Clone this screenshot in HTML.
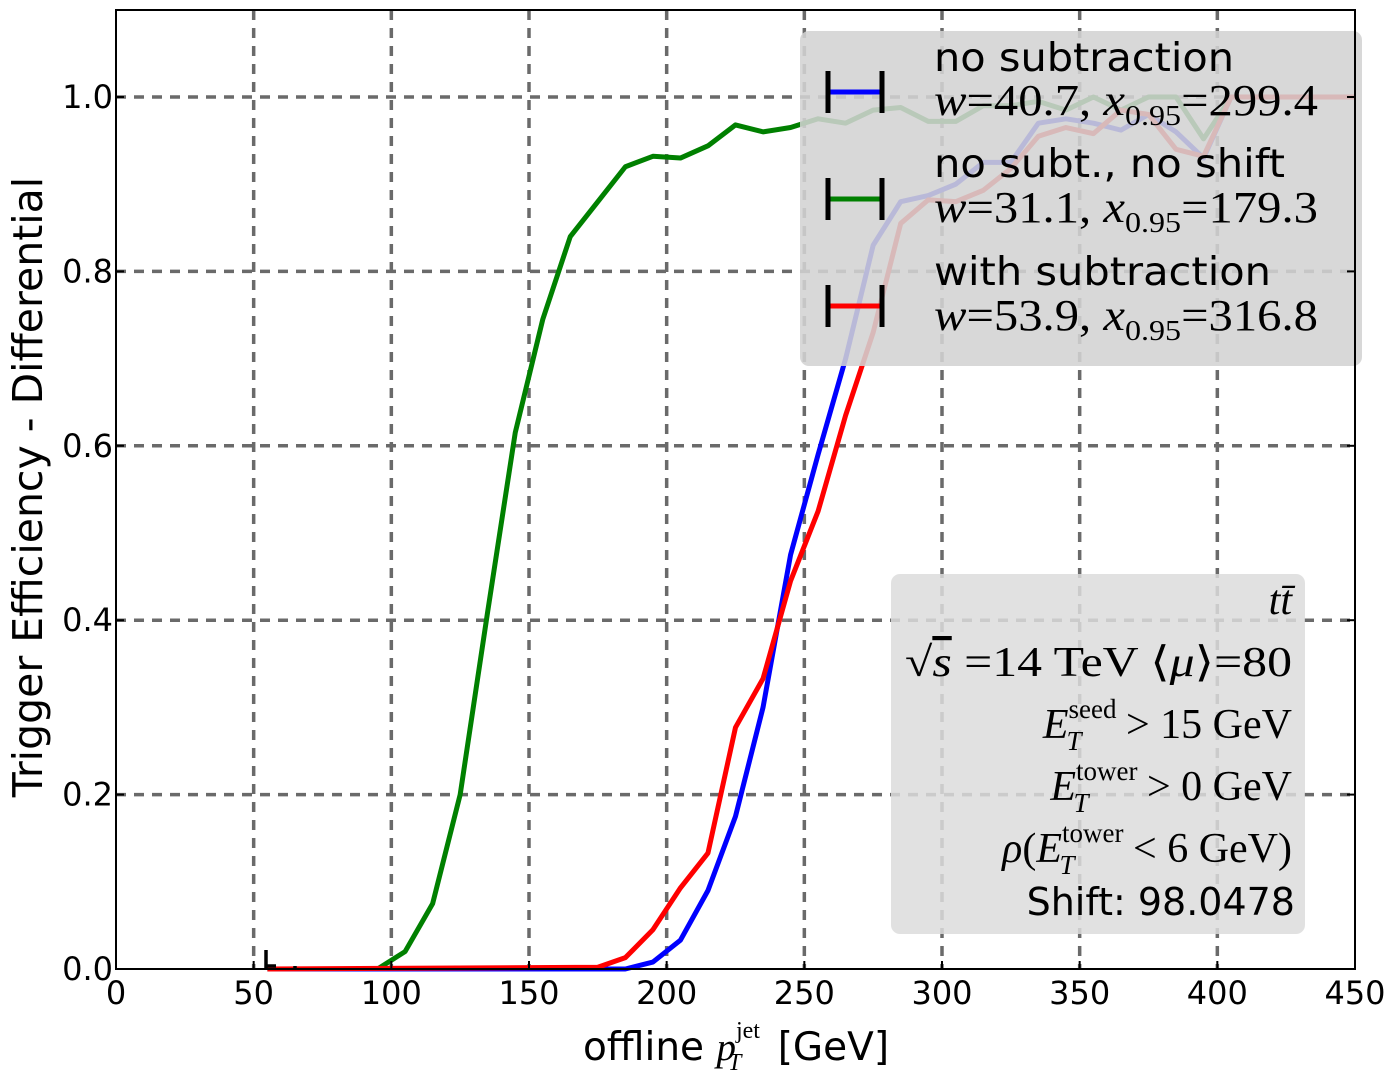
<!DOCTYPE html>
<html><head><meta charset="utf-8">
<style>
body{margin:0;background:#fff;}
svg{display:block;}
text{font-family:"DejaVu Sans","Liberation Sans",sans-serif;}
text.m,.m text,.m tspan,tspan.m{font-family:"Liberation Serif","DejaVu Serif",serif;}
</style></head>
<body>
<svg id="s" width="1397" height="1086" xmlns="http://www.w3.org/2000/svg">
<rect x="0" y="0" width="1397" height="1086" fill="#fff"/>
<g id="grid" stroke="#6a6a6a" stroke-width="3.5" stroke-dasharray="10,8"></g>
<g id="lines" fill="none" stroke-width="5" stroke-linejoin="round"></g>
<path d="M266 950 V969 M266 966 H276 M295 966 V969" stroke="#000" stroke-width="3.5"/>
<rect x="800" y="31" width="562" height="335" rx="9" fill="#d3d3d3" fill-opacity="0.88"/>
<g stroke-width="5">
<path d="M826 92 H884" stroke="#00f"/><path d="M826 199 H884" stroke="#008000"/><path d="M826 306 H884" stroke="#f00"/>
</g>
<g stroke="#000" stroke-width="5">
<path d="M828 71 V113 M882 71 V113 M828 178 V220 M882 178 V220 M828 285 V327 M882 285 V327"/>
</g>
<g font-size="39">
<text x="934" y="71" textLength="300" lengthAdjust="spacingAndGlyphs">no subtraction</text>
<text x="934" y="177" textLength="351" lengthAdjust="spacingAndGlyphs">no subt., no shift</text>
<text x="934" y="285" textLength="337" lengthAdjust="spacingAndGlyphs">with subtraction</text>
</g>
<g class="m" font-size="44">
<text x="934" y="115" textLength="384" lengthAdjust="spacingAndGlyphs"><tspan font-style="italic">w</tspan>=40.7, <tspan font-style="italic">x</tspan><tspan font-size="29" dy="10">0.95</tspan><tspan dy="-10">=299.4</tspan></text>
<text x="934" y="222" textLength="384" lengthAdjust="spacingAndGlyphs"><tspan font-style="italic">w</tspan>=31.1, <tspan font-style="italic">x</tspan><tspan font-size="29" dy="10">0.95</tspan><tspan dy="-10">=179.3</tspan></text>
<text x="934" y="330" textLength="384" lengthAdjust="spacingAndGlyphs"><tspan font-style="italic">w</tspan>=53.9, <tspan font-style="italic">x</tspan><tspan font-size="29" dy="10">0.95</tspan><tspan dy="-10">=316.8</tspan></text>
</g>
<rect x="891" y="574" width="414" height="360" rx="9" fill="#dcdcdc" fill-opacity="0.85"/>
<g class="m" font-size="42" text-anchor="end">
<text x="1292" y="614" font-style="italic">tt̄</text>
<text x="1292" y="676" textLength="387" lengthAdjust="spacingAndGlyphs">√<tspan font-style="italic" text-decoration="overline">s</tspan> =14 TeV ⟨<tspan font-style="italic">μ</tspan>⟩=80</text>
<text x="1292" y="738"><tspan font-style="italic">E</tspan><tspan font-size="27" dy="-20">seed</tspan><tspan font-size="27" font-style="italic" dx="-50" dy="32">T</tspan><tspan dx="34" dy="-12"> &gt; 15 GeV</tspan></text>
<text x="1292" y="800"><tspan font-style="italic">E</tspan><tspan font-size="27" dy="-20">tower</tspan><tspan font-size="27" font-style="italic" dx="-64" dy="32">T</tspan><tspan dx="48" dy="-12"> &gt; 0 GeV</tspan></text>
<text x="1292" y="862"><tspan font-style="italic">ρ</tspan>(<tspan font-style="italic">E</tspan><tspan font-size="27" dy="-20">tower</tspan><tspan font-size="27" font-style="italic" dx="-64" dy="32">T</tspan><tspan dx="48" dy="-12"> &lt; 6 GeV)</tspan></text>
</g>
<text x="1295" y="915" font-size="38" text-anchor="end">Shift: 98.0478</text>
<rect x="116" y="10" width="1239" height="959" fill="none" stroke="#000" stroke-width="2"/>
<g id="ticks" stroke="#000" stroke-width="2"></g>
<g id="tl" font-size="32"></g>
<text x="736" y="1060" font-size="39" text-anchor="middle">offline <tspan class="m" font-style="italic">p</tspan><tspan class="m" font-size="24" dy="-22">jet</tspan><tspan class="m" font-size="24" font-style="italic" dx="-32" dy="32">T</tspan><tspan dx="24" dy="-10"> [GeV]</tspan></text>
<text transform="translate(42,487) rotate(-90)" font-size="41" text-anchor="middle">Trigger Efficiency - Differential</text>
</svg>
<script>
var X=function(v){return 116+v*1239/450},Y=function(v){return 969-v*872};
var ns="http://www.w3.org/2000/svg";
function el(p,t,a){var e=document.createElementNS(ns,t);for(var k in a)e.setAttribute(k,a[k]);p.appendChild(e);return e;}
var g=document.getElementById('grid'),tk=document.getElementById('ticks'),tl=document.getElementById('tl');
for(var i=1;i<9;i++){var x=X(i*50);el(g,'line',{x1:x,x2:x,y1:10,y2:969});}
for(var i=1;i<6;i++){var y=Y(i*0.2);el(g,'line',{x1:116,x2:1355,y1:y,y2:y});}
for(var i=0;i<=9;i++){var x=X(i*50);el(tk,'line',{x1:x,x2:x,y1:969,y2:961});el(tl,'text',{x:x,y:1004,'text-anchor':'middle'}).textContent=i*50;}
for(var i=0;i<=5;i++){var y=Y(i*0.2);el(tk,'line',{x1:116,x2:124,y1:y,y2:y});el(tk,'line',{x1:1355,x2:1347,y1:y,y2:y});el(tl,'text',{x:113,y:y+11,'text-anchor':'end'}).textContent=(i*0.2).toFixed(1);}
var G=[[55,0],[95,0],[105,.02],[115,.075],[125,.2],[135,.41],[145,.615],[155,.745],[165,.84],[175,.88],[185,.92],[195,.932],[205,.93],[215,.944],[225,.968],[235,.96],[245,.965],[255,.975],[265,.97],[275,.985],[285,.988],[295,.972],[305,.972],[315,.99],[325,.99],[335,.995],[345,.985],[355,1],[365,.985],[375,1],[385,1],[395,.952],[405,1],[450,1]];
var B=[[55,0],[185,0],[195,.008],[205,.033],[215,.09],[225,.175],[235,.3],[245,.475],[255,.59],[265,.7],[275,.83],[285,.88],[295,.887],[305,.9],[315,.925],[325,.925],[335,.97],[345,.975],[355,.97],[365,.962],[375,.98],[385,.96],[395,.93],[405,1],[450,1]];
var R=[[55,0],[175,.002],[185,.013],[195,.045],[205,.093],[215,.133],[225,.277],[235,.333],[245,.445],[255,.525],[265,.635],[275,.73],[285,.855],[295,.882],[305,.88],[315,.893],[325,.918],[335,.955],[345,.965],[355,.958],[365,.985],[375,.98],[385,.94],[395,.932],[405,1],[450,1]];
var L=document.getElementById('lines');
[[G,'#008000'],[B,'#0000ff'],[R,'#ff0000']].forEach(function(s){el(L,'polyline',{points:s[0].map(function(p){return X(p[0])+','+Y(p[1])}).join(' '),stroke:s[1]});});
</script>
</body></html>
